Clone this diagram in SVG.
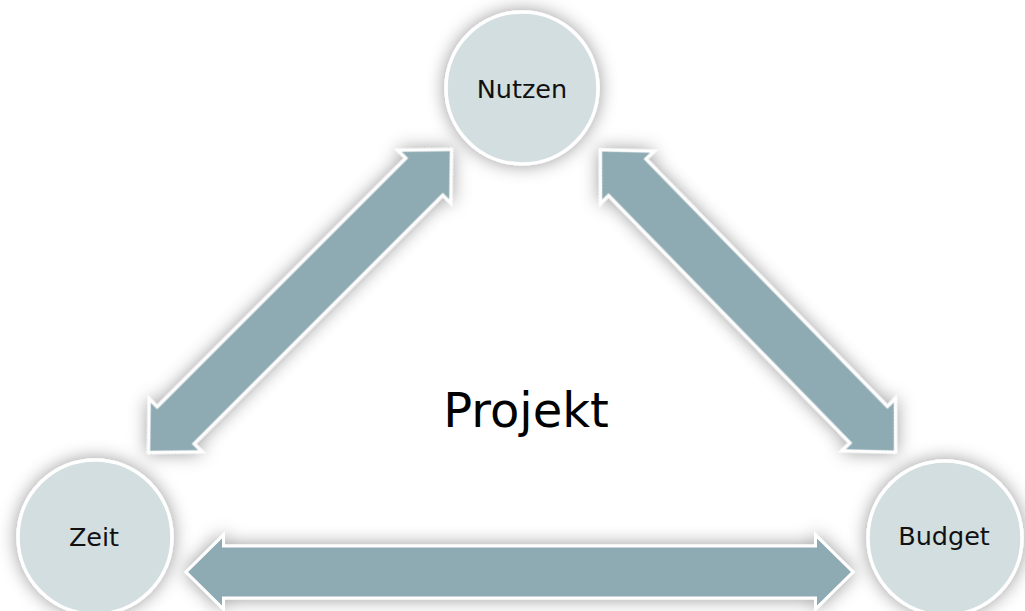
<svg xmlns="http://www.w3.org/2000/svg" width="1025" height="611" viewBox="0 0 1025 611">
  <defs>
    <filter id="glow" x="-30%" y="-30%" width="160%" height="160%">
      <feGaussianBlur in="SourceAlpha" stdDeviation="9" result="b"/>
      <feFlood flood-color="#000" flood-opacity="0.4"/>
      <feComposite in2="b" operator="in" result="s"/>
      <feMerge><feMergeNode in="s"/><feMergeNode in="SourceGraphic"/></feMerge>
    </filter>
    <style>
      .node circle { fill: #d3dee1; stroke: #ffffff; stroke-width: 3.5; filter: url(#glow); }
      .node text { font-family: "DejaVu Sans", Verdana, sans-serif; font-size: 25.5px; fill: #111111; text-anchor: middle; }
      .arrow { fill: #8eaab3; stroke: #ffffff; stroke-width: 3; stroke-linejoin: miter; filter: url(#glow); }
      .title { font-family: "DejaVu Sans", Verdana, sans-serif; font-size: 48px; fill: #000000; text-anchor: middle; }
    </style>
  </defs>
  <rect width="1025" height="611" fill="#ffffff"/>
  <g id="connectors">
    <polygon class="arrow" transform="translate(300,301) rotate(-45)" points="-214,0 -176,-37 -176,-26 176,-26 176,-37 214,0 176,37 176,26 -176,26 -176,37"/>
    <polygon class="arrow" transform="translate(748,301) rotate(45.7)" points="-211,0 -173,-37 -173,-26 173,-26 173,-37 211,0 173,37 173,26 -173,26 -173,37"/>
    <polygon class="arrow" transform="translate(519.5,572)" points="-333.5,0 -296,-37 -296,-26 296,-26 296,-37 333.5,0 296,37 296,26 -296,26 -296,37"/>
  </g>
  <g id="node-nutzen" class="node">
    <circle cx="522" cy="88" r="76"/>
    <text x="522" y="98">Nutzen</text>
  </g>
  <g id="node-zeit" class="node">
    <circle cx="95" cy="537" r="77"/>
    <text x="94" y="546">Zeit</text>
  </g>
  <g id="node-budget" class="node">
    <circle cx="945" cy="538" r="77"/>
    <text x="944" y="545">Budget</text>
  </g>
  <g id="label-projekt">
    <text class="title" x="526" y="427">Projekt</text>
  </g>
</svg>
